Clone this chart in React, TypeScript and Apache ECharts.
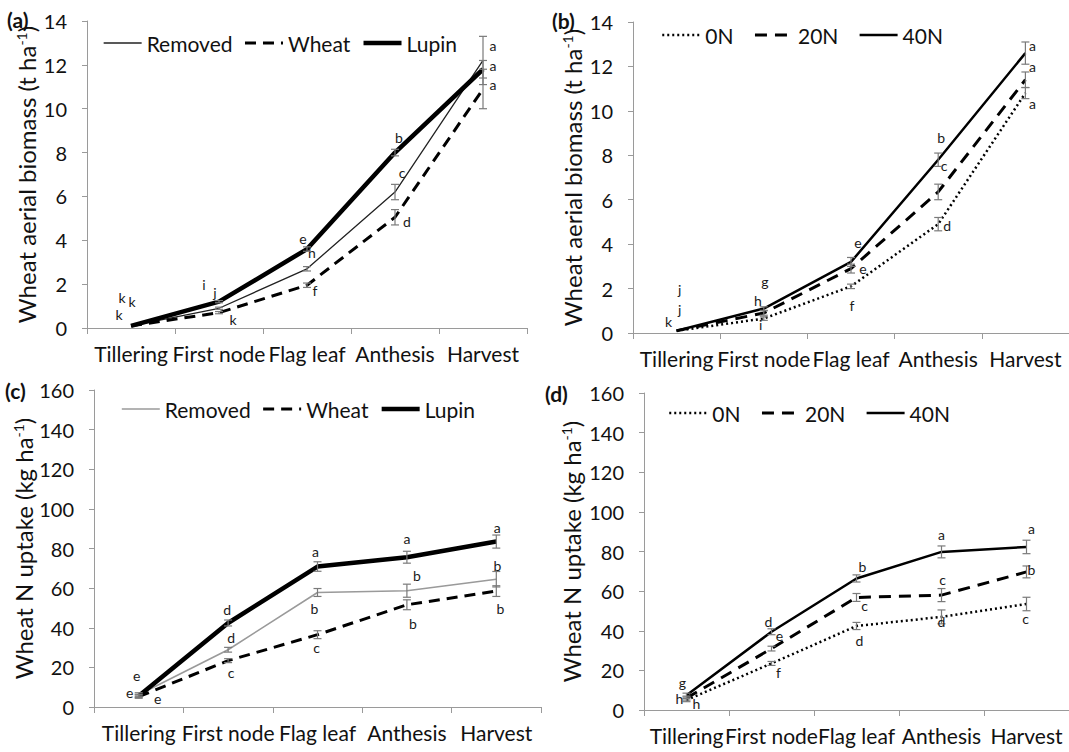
import React, { useEffect, useRef } from "react";
import * as echarts from "echarts";

// Growth stages on the x axis
const stages = ["Tillering", "First node", "Flag leaf", "Anthesis", "Harvest"];

// (a) Wheat aerial biomass (t/ha) by neighbour treatment
const biomassRemoved = [0.1, 0.9, 2.7, 6.2, 12.2];
const biomassWheat = [0.1, 0.7, 1.95, 5.05, 10.9];
const biomassLupin = [0.1, 1.2, 3.6, 8.0, 11.8];
const biomassRemovedErr = [0, 0.05, 0.1, 0.35, 1.1];
const biomassWheatErr = [0, 0.05, 0.1, 0.35, 0.9];
const biomassLupinErr = [0, 0.05, 0.1, 0.15, 0.4];
const biomassRemovedLetters = ["k", "j", "h", "c", "a"];
const biomassWheatLetters = ["k", "k", "f", "d", "a"];
const biomassLupinLetters = ["k", "i", "e", "b", "a"];

// (b) Wheat aerial biomass (t/ha) by N rate
const biomass0N = [0.1, 0.65, 2.1, 4.9, 10.8];
const biomass20N = [0.1, 0.9, 2.9, 6.35, 11.4];
const biomass40N = [0.1, 1.1, 3.2, 7.8, 12.6];
const biomass0NErr = [0, 0.08, 0.1, 0.3, 0.25];
const biomass20NErr = [0, 0.1, 0.2, 0.35, 0.35];
const biomass40NErr = [0, 0.08, 0.2, 0.3, 0.5];
const biomass0NLetters = ["k", "i", "f", "d", "a"];
const biomass20NLetters = ["j", "h", "e", "c", "a"];
const biomass40NLetters = ["j", "g", "e", "b", "a"];

// (c) Wheat N uptake (kg/ha) by neighbour treatment
const uptakeRemoved = [6.2, 28.9, 57.8, 58.7, 64.5];
const uptakeWheat = [5.2, 23.4, 36.5, 51.6, 58.5];
const uptakeLupin = [5.6, 42.4, 70.9, 75.6, 83.5];
const uptakeRemovedErr = [1, 1.2, 2, 3.3, 3.9];
const uptakeWheatErr = [0.8, 1, 2, 2.5, 2.7];
const uptakeLupinErr = [0.8, 1.5, 2.4, 3, 3.3];
const uptakeRemovedLetters = ["e", "d", "b", "b", "b"];
const uptakeWheatLetters = ["e", "c", "c", "b", "b"];
const uptakeLupinLetters = ["e", "d", "a", "a", "a"];

// (d) Wheat N uptake (kg/ha) by N rate
const uptake0N = [5, 23.5, 42.4, 47, 53.5];
const uptake20N = [6, 31, 56.8, 58, 69.7];
const uptake40N = [7.5, 39.5, 66.4, 79.8, 82.3];
const uptake0NErr = [0.8, 1, 1.8, 3.5, 3.4];
const uptake20NErr = [1, 1.2, 2, 3.3, 3];
const uptake40NErr = [1, 1.5, 1.8, 3, 3.4];
const uptake0NLetters = ["h", "f", "d", "d", "c"];
const uptake20NLetters = ["h", "e", "c", "c", "b"];
const uptake40NLetters = ["g", "d", "b", "a", "a"];

// Y axis ranges and tick steps
const biomassTicks = { min: 0, max: 14, interval: 2 };
const uptakeTicks = { min: 0, max: 160, interval: 20 };

const FONT = "Lato";

// Pixel offsets of the significance letters relative to their points
const offA = {
  removed: [[-9, -28], [-4, -16], [5, -16], [7, -20], [10, -15]],
  wheat: [[-12, -11], [14, 7], [8, 5], [12, 4], [10, -4]],
  lupin: [[1, -24], [-15, -17], [-4, -11], [4, -15], [10, -4]],
};
const offB = {
  n0: [[-8, -9], [-3, 6], [1, 19], [9, 1], [7, 10]],
  n20: [[3, -21], [-6, -13], [12, 0], [6, -26], [7, -13]],
  n40: [[3, -41], [1, -27], [7, -19], [3, -22], [7, -8]],
};
const offC = {
  removed: [[-9, -2], [3, -12], [-3, 16], [10, -15], [1, -14]],
  wheat: [[19, 2], [3, 12], [-1, 13], [6, 19], [4, 17]],
  lupin: [[-2, -20], [-1, -13], [-2, -15], [0, -19], [1, -14]],
};
const offD = {
  n0: [[10, 3], [7, 9], [3, 15], [0, 5], [-1, 14]],
  n20: [[-7, 0], [8, -13], [8, 8], [1, -16], [5, -2]],
  n40: [[-4, -13], [-3, -10], [6, -12], [0, -17], [5, -18]],
};

type LineSpec = {
  label: string;
  values: number[];
  errors: number[];
  letters: string[];
  offsets: number[][];
  lineStyle: any;
};

type PanelSpec = {
  key: string;
  tag: string;
  grid: { left: number; top: number; width: number; height: number };
  ticks: { min: number; max: number; interval: number };
  titleMain: string;
  titleUnit: string;
  nameGap: number;
  legend: { left: number; top: number; itemGap: number };
  lines: LineSpec[];
};

const wheatDash = { color: "#000", width: 3, type: [11, 7] };
const lupinSolid = { color: "#000", width: 4.5, type: "solid" };
const dotted = { color: "#000", width: 2.5, type: [2, 3] };
const dashed = { color: "#000", width: 3, type: [12, 8] };
const solid = { color: "#000", width: 2.5, type: "solid" };

const panels: PanelSpec[] = [
  {
    key: "a",
    tag: "(a)",
    grid: { left: 87, top: 21, width: 440, height: 307 },
    ticks: biomassTicks,
    titleMain: "Wheat aerial biomass (t ha",
    titleUnit: "-1",
    nameGap: 49,
    legend: { left: 103, top: 31, itemGap: 11 },
    lines: [
      { label: "Removed", values: biomassRemoved, errors: biomassRemovedErr, letters: biomassRemovedLetters, offsets: offA.removed, lineStyle: { color: "#222", width: 1.3, type: "solid" } },
      { label: "Wheat", values: biomassWheat, errors: biomassWheatErr, letters: biomassWheatLetters, offsets: offA.wheat, lineStyle: wheatDash },
      { label: "Lupin", values: biomassLupin, errors: biomassLupinErr, letters: biomassLupinLetters, offsets: offA.lupin, lineStyle: lupinSolid },
    ],
  },
  {
    key: "b",
    tag: "(b)",
    grid: { left: 633, top: 22, width: 472, height: 311 },
    ticks: biomassTicks,
    titleMain: "Wheat aerial biomass (t ha",
    titleUnit: "-1",
    nameGap: 49,
    legend: { left: 661, top: 23, itemGap: 20 },
    lines: [
      { label: "0N", values: biomass0N, errors: biomass0NErr, letters: biomass0NLetters, offsets: offB.n0, lineStyle: dotted },
      { label: "20N", values: biomass20N, errors: biomass20NErr, letters: biomass20NLetters, offsets: offB.n20, lineStyle: dashed },
      { label: "40N", values: biomass40N, errors: biomass40NErr, letters: biomass40NLetters, offsets: offB.n40, lineStyle: solid },
    ],
  },
  {
    key: "c",
    tag: "(c)",
    grid: { left: 94, top: 390, width: 447, height: 317 },
    ticks: uptakeTicks,
    titleMain: "Wheat N uptake (kg ha",
    titleUnit: "-1",
    nameGap: 55,
    legend: { left: 121, top: 397, itemGap: 11 },
    lines: [
      { label: "Removed", values: uptakeRemoved, errors: uptakeRemovedErr, letters: uptakeRemovedLetters, offsets: offC.removed, lineStyle: { color: "#9a9a9a", width: 1.6, type: "solid" } },
      { label: "Wheat", values: uptakeWheat, errors: uptakeWheatErr, letters: uptakeWheatLetters, offsets: offC.wheat, lineStyle: wheatDash },
      { label: "Lupin", values: uptakeLupin, errors: uptakeLupinErr, letters: uptakeLupinLetters, offsets: offC.lupin, lineStyle: lupinSolid },
    ],
  },
  {
    key: "d",
    tag: "(d)",
    grid: { left: 644, top: 393, width: 459, height: 317 },
    ticks: uptakeTicks,
    titleMain: "Wheat N uptake (kg ha",
    titleUnit: "-1",
    nameGap: 61,
    legend: { left: 668, top: 401, itemGap: 20 },
    lines: [
      { label: "0N", values: uptake0N, errors: uptake0NErr, letters: uptake0NLetters, offsets: offD.n0, lineStyle: dotted },
      { label: "20N", values: uptake20N, errors: uptake20NErr, letters: uptake20NLetters, offsets: offD.n20, lineStyle: dashed },
      { label: "40N", values: uptake40N, errors: uptake40NErr, letters: uptake40NLetters, offsets: offD.n40, lineStyle: solid },
    ],
  },
];

const axisGrey = "#9a9a9a";

// Error bar with caps, plus the significance letter beside the point
function makeRenderer(letters: string[], offsets: number[][]) {
  return (params: any, api: any) => {
    const k = api.value(0);
    const v = api.value(1);
    const e = api.value(2);
    const idx = params.dataIndex;
    const pt = api.coord([k, v]);
    const children: any[] = [];
    if (e) {
      const top = api.coord([k, v + e]);
      const bot = api.coord([k, v - e]);
      const w = 4;
      const style = { stroke: "#7a7a7a", lineWidth: 1.2 };
      children.push(
        { type: "line", shape: { x1: top[0], y1: top[1], x2: bot[0], y2: bot[1] }, style },
        { type: "line", shape: { x1: top[0] - w, y1: top[1], x2: top[0] + w, y2: top[1] }, style },
        { type: "line", shape: { x1: bot[0] - w, y1: bot[1], x2: bot[0] + w, y2: bot[1] }, style }
      );
    }
    const off = offsets[idx] || [0, 0];
    children.push({
      type: "text",
      x: pt[0] + off[0],
      y: pt[1] + off[1],
      style: {
        text: letters[idx],
        fill: "#1a1a1a",
        font: `14px ${FONT}`,
        align: "center",
        verticalAlign: "middle",
      },
    });
    return { type: "group", children };
  };
}

function buildOption() {
  const grid: any[] = [];
  const xAxis: any[] = [];
  const yAxis: any[] = [];
  const legend: any[] = [];
  const series: any[] = [];
  const graphic: any[] = [];

  panels.forEach((p, i) => {
    grid.push({ ...p.grid, containLabel: false });
    xAxis.push({
      type: "category",
      gridIndex: i,
      data: stages,
      boundaryGap: true,
      axisLine: { show: true, lineStyle: { color: axisGrey, width: 1 } },
      axisTick: { show: true, length: 6, lineStyle: { color: axisGrey } },
      axisLabel: { interval: 0, fontSize: 21, color: "#111", margin: 15, fontFamily: FONT },
      splitLine: { show: false },
    });
    yAxis.push({
      type: "value",
      gridIndex: i,
      min: p.ticks.min,
      max: p.ticks.max,
      interval: p.ticks.interval,
      axisLine: { show: true, lineStyle: { color: axisGrey, width: 1 } },
      axisTick: { show: true, length: 5, lineStyle: { color: axisGrey } },
      axisLabel: { fontSize: 20, color: "#111", margin: 20, fontFamily: FONT },
      splitLine: { show: false },
      name: `{m|${p.titleMain}}{s|${p.titleUnit}}{m|)}`,
      nameLocation: "middle",
      nameGap: p.nameGap,
      nameRotate: 90,
      nameTextStyle: {
        rich: {
          m: { fontSize: 24, fontFamily: FONT, color: "#111" },
          s: { fontSize: 14, fontFamily: FONT, color: "#111", verticalAlign: "top", padding: [0, 0, 10, 0] },
        },
      },
    });
    legend.push({
      left: p.legend.left,
      top: p.legend.top,
      padding: 0,
      orient: "horizontal",
      itemWidth: 38,
      itemHeight: 14,
      itemGap: p.legend.itemGap,
      selectedMode: false,
      data: p.lines.map((l) => `${l.label}#${p.key}`),
      formatter: (name: string) => name.split("#")[0],
      textStyle: { fontSize: 21, fontFamily: FONT, color: "#111", lineHeight: 24 },
      itemStyle: { opacity: 0 },
      lineStyle: { width: "inherit", type: "inherit", color: "inherit", cap: "butt" },
    });

    p.lines.forEach((l) => {
      series.push({
        type: "line",
        name: `${l.label}#${p.key}`,
        xAxisIndex: i,
        yAxisIndex: i,
        data: l.values,
        symbol: "none",
        showSymbol: false,
        lineStyle: { ...l.lineStyle, cap: "butt", join: "round" },
        itemStyle: { color: l.lineStyle.color },
        z: 2,
      });
      series.push({
        type: "custom",
        name: `${l.label}#${p.key}-err`,
        xAxisIndex: i,
        yAxisIndex: i,
        renderItem: makeRenderer(l.letters, l.offsets),
        data: l.values.map((v, k) => [k, v, l.errors[k]]),
        encode: { x: 0, y: 1 },
        clip: false,
        z: 3,
        silent: true,
      });
    });
  });

  const tagPos = [
    { x: 7, y: 21 },
    { x: 552, y: 22 },
    { x: 5, y: 392 },
    { x: 545, y: 395 },
  ];
  panels.forEach((p, i) => {
    graphic.push({
      type: "text",
      left: tagPos[i].x,
      top: tagPos[i].y - 12,
      style: { text: p.tag, font: `bold 21px ${FONT}`, fill: "#111" },
    });
  });

  return {
    animation: false,
    backgroundColor: "#fff",
    textStyle: { fontFamily: FONT },
    grid,
    xAxis,
    yAxis,
    legend,
    series,
    graphic,
  };
}

export default function App() {
  const ref = useRef<HTMLDivElement>(null);
  useEffect(() => {
    if (!ref.current) return;
    const chart = echarts.init(ref.current, null, { renderer: "svg" });
    chart.setOption(buildOption() as any);
    return () => chart.dispose();
  }, []);
  return (
    <div
      ref={ref}
      style={{ position: "absolute", left: 0, top: 0, width: 1069, height: 752, overflow: "hidden", background: "#fff" }}
    />
  );
}
